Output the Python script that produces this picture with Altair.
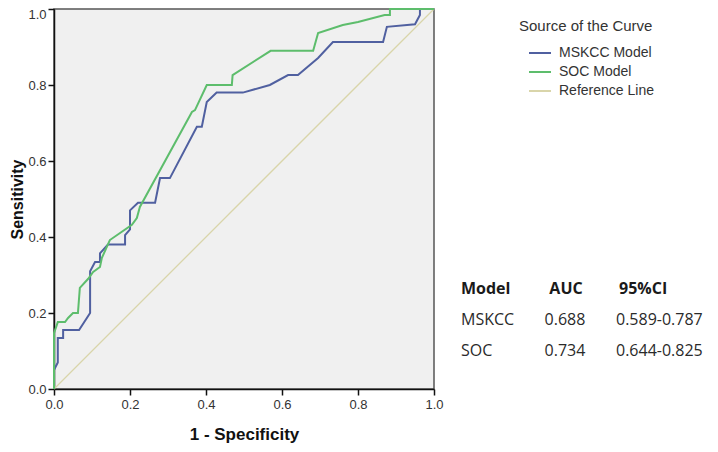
import altair as alt
import pandas as pd

# ROC curve vertices (1 - specificity, sensitivity)
mskcc_fpr = [0.0, 0.0, 0.01, 0.01, 0.024, 0.024, 0.066, 0.095, 0.095, 0.108, 0.121, 0.121,
             0.142, 0.187, 0.187, 0.2, 0.2, 0.221, 0.266, 0.279, 0.305, 0.376, 0.389, 0.402,
             0.428, 0.497, 0.568, 0.616, 0.642, 0.695, 0.734, 0.866, 0.876, 0.95, 0.963,
             0.963, 1.0]
mskcc_tpr = [0.0, 0.05, 0.07, 0.134, 0.134, 0.155, 0.155, 0.2, 0.31, 0.334, 0.334, 0.357,
             0.38, 0.38, 0.405, 0.42, 0.47, 0.49, 0.49, 0.555, 0.555, 0.69, 0.69, 0.755,
             0.78, 0.78, 0.8, 0.826, 0.826, 0.871, 0.913, 0.913, 0.953, 0.96, 0.984,
             1.0, 1.0]

soc_fpr = [0.0, 0.0, 0.01, 0.029, 0.037, 0.05, 0.063, 0.068, 0.09, 0.103, 0.121, 0.126,
           0.147, 0.205, 0.218, 0.226, 0.363, 0.371, 0.402, 0.468, 0.47, 0.57, 0.682,
           0.695, 0.76, 0.8, 0.87, 0.884, 0.884, 1.0]
soc_tpr = [0.0, 0.147, 0.176, 0.176, 0.187, 0.2, 0.2, 0.266, 0.29, 0.308, 0.321, 0.345,
           0.392, 0.432, 0.45, 0.479, 0.729, 0.734, 0.8, 0.8, 0.826, 0.89, 0.89,
           0.937, 0.958, 0.966, 0.984, 0.984, 1.0, 1.0]

ref_fpr = [0.0, 1.0]
ref_tpr = [0.0, 1.0]

series_names = ["MSKCC Model", "SOC Model", "Reference Line"]
series_colors = ["#5060a0", "#5dbd6c", "#d9d5aa"]

# AUC table
table_header = ["Model", "AUC", "95%CI"]
table_models = ["MSKCC", "SOC"]
table_auc = ["0.688", "0.734"]
table_ci = ["0.589-0.787", "0.644-0.825"]

x_ticks = [0.0, 0.2, 0.4, 0.6, 0.8, 1.0]

rows = []
for name, xs, ys in [(series_names[0], mskcc_fpr, mskcc_tpr),
                     (series_names[1], soc_fpr, soc_tpr),
                     (series_names[2], ref_fpr, ref_tpr)]:
    for i, (a, b) in enumerate(zip(xs, ys)):
        rows.append({"series": name, "fpr": a, "tpr": b, "idx": i})
df = pd.DataFrame(rows)

color = alt.Color(
    "series:N",
    scale=alt.Scale(domain=series_names, range=series_colors),
    legend=alt.Legend(
        orient="none", legendX=465, legendY=10,
        title="Source of the Curve",
        titleFont="Liberation Sans", titleFontSize=15, titleFontWeight="normal",
        titleColor="#333333", titlePadding=7,
        labelFont="Liberation Sans", labelFontSize=14, labelColor="#333333",
        symbolType="stroke", symbolSize=484, symbolStrokeWidth=2,
        symbolOffset=9, labelOffset=7, rowPadding=0,
    ),
)

axis_style = dict(
    labelFont="Liberation Sans", labelFontSize=13, labelColor="#333333",
    titleFont="Liberation Sans", titleFontWeight="bold",
    titleColor="#111111", tickSize=6, tickColor="#111111", tickWidth=1.5,
    domainColor="#111111", domainWidth=1.5,
    values=x_ticks, format=".1f", labelFlush=False, labelOverlap=False, grid=False,
)

x_enc = alt.X("fpr:Q", scale=alt.Scale(domain=[0, 1], nice=False),
              axis=alt.Axis(title="1 - Specificity", titlePadding=15, titleFontSize=17,
                            labelPadding=3, **axis_style))
y_enc = alt.Y("tpr:Q", scale=alt.Scale(domain=[0, 1], nice=False),
              axis=alt.Axis(title="Sensitivity", titlePadding=2, titleFontSize=16,
                            labelPadding=2,
                            labelOffset={"condition": {"test": "datum.value == 1",
                                                       "value": 5},
                                         "value": 0},
                            **axis_style))

ref_layer = alt.Chart(df).transform_filter(
    alt.datum.series == "Reference Line"
).mark_line(strokeWidth=1.3).encode(x=x_enc, y=y_enc, color=color, order="idx:Q")

curve_layer = alt.Chart(df).transform_filter(
    alt.datum.series != "Reference Line"
).mark_line(strokeWidth=2).encode(x=x_enc, y=y_enc, color=color, order="idx:Q",
                                  detail="series:N")

roc = alt.layer(ref_layer, curve_layer)

# table
tfont = "Open Sans"
tsize = 16
head_df = pd.DataFrame({"h": table_header})
body_df = pd.DataFrame({"model": table_models, "auc": table_auc, "ci": table_ci})
yrow = alt.Y("model:N", scale=alt.Scale(type="point", domain=table_models,
                                        range=[311, 342], padding=0), axis=None)


def head(label, x, align):
    return alt.Chart(head_df).transform_filter(alt.datum.h == label).mark_text(
        font=tfont, fontSize=tsize, fontWeight="bold", color="#1a1a1a",
        align=align, baseline="middle"
    ).encode(text="h:N", x=alt.value(x), y=alt.value(280))


def col(field, x, align):
    return alt.Chart(body_df).mark_text(
        font=tfont, fontSize=tsize, color="#2a2a2a", align=align, baseline="middle"
    ).encode(text=f"{field}:N", x=alt.value(x), y=yrow)


table = alt.layer(
    head("Model", 407, "left"), head("AUC", 512, "center"), head("95%CI", 565, "left"),
    col("model", 407, "left"), col("auc", 511, "center"), col("ci", 562, "left"),
)

chart = alt.layer(roc, table).resolve_scale(y="independent").properties(
    width=380, height=380,
    autosize=alt.AutoSizeParams(type="none"),
    padding={"left": 46, "top": 1, "right": 276, "bottom": 55},
    background="white",
).configure_view(
    fill="#f0f0f0", stroke="#555555", strokeWidth=1.5
)

chart.save("out.html", embed_options={"renderer": "svg", "actions": False})
